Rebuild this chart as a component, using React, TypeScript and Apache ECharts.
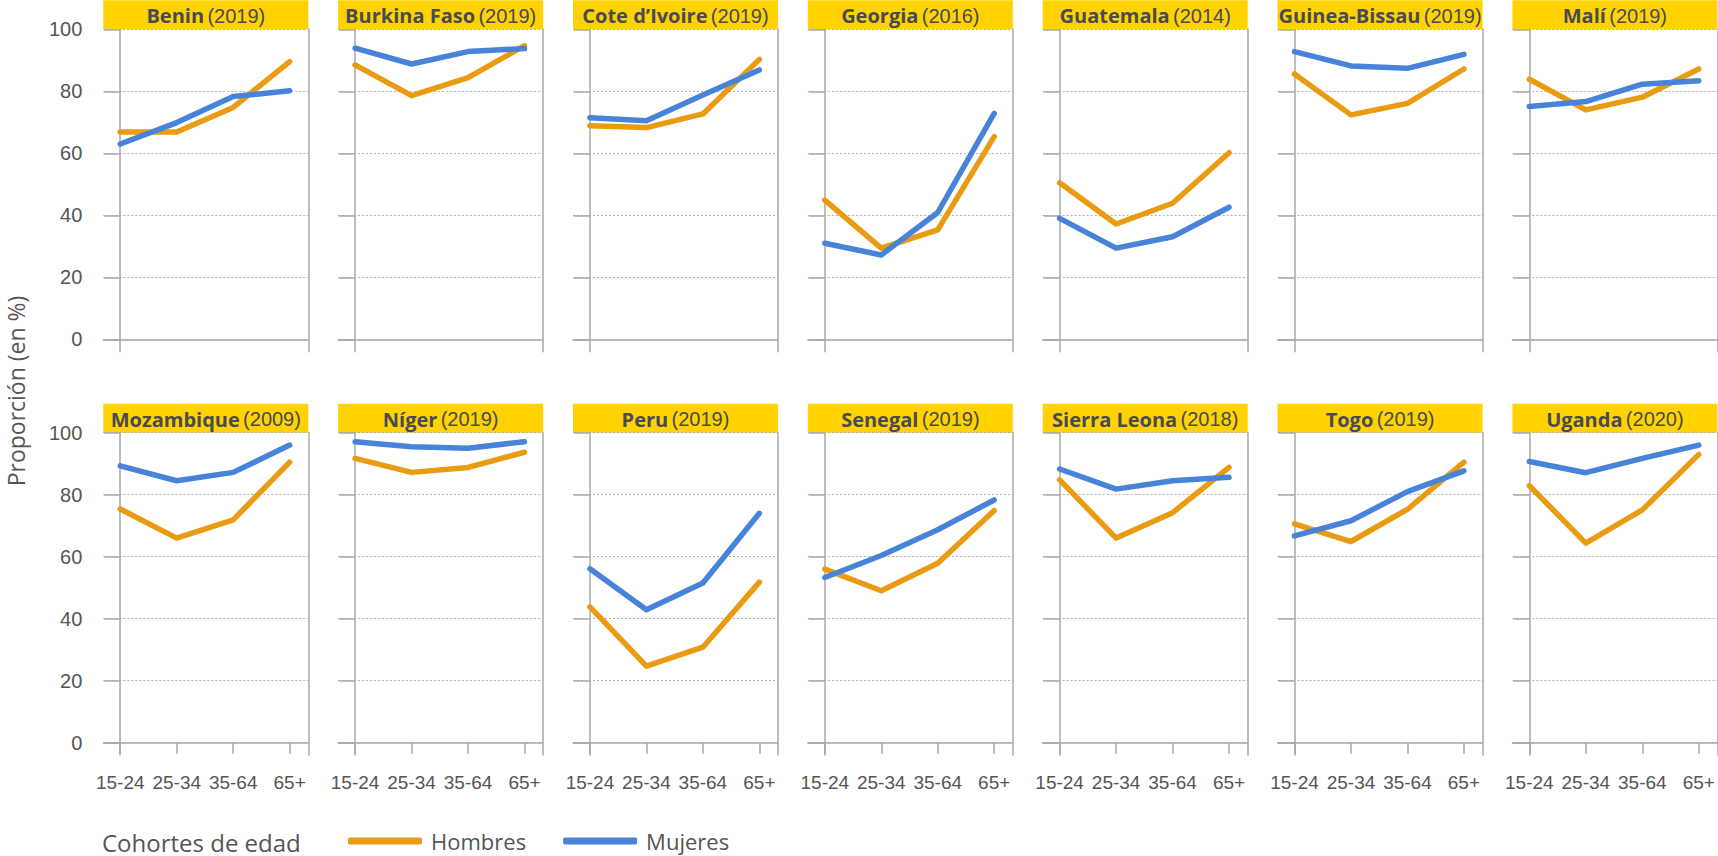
import React, { useEffect, useRef } from "react";
import * as echarts from "echarts";

// ---- data ----
const ageGroups = ["15-24", "25-34", "35-64", "65+"];
const yTicks = [0, 20, 40, 60, 80, 100];
const countries = [
  "Benin", "Burkina Faso", "Cote d’Ivoire", "Georgia", "Guatemala", "Guinea-Bissau", "Malí",
  "Mozambique", "Níger", "Peru", "Senegal", "Sierra Leona", "Togo", "Uganda",
];
const surveyYears = [
  "2019", "2019", "2019", "2016", "2014", "2019", "2019",
  "2009", "2019", "2019", "2019", "2018", "2019", "2020",
];
const hombres: number[][] = [
  [66.9, 66.9, 74.8, 89.6],
  [88.5, 78.6, 84.4, 94.7],
  [68.9, 68.3, 72.7, 90.3],
  [44.9, 29.4, 35.3, 65.4],
  [50.5, 37.2, 43.9, 60.2],
  [85.6, 72.4, 76.1, 87.2],
  [83.9, 74.0, 78.1, 87.2],
  [75.4, 66.0, 71.9, 90.5],
  [91.7, 87.2, 88.8, 93.7],
  [43.8, 24.7, 30.8, 51.8],
  [56.0, 49.0, 57.9, 74.9],
  [84.8, 66.0, 74.2, 88.8],
  [70.6, 64.9, 75.3, 90.5],
  [82.9, 64.4, 75.1, 93.0],
];
const mujeres: number[][] = [
  [63.0, 69.9, 78.3, 80.2],
  [93.9, 88.8, 92.8, 93.8],
  [71.5, 70.5, 78.8, 86.9],
  [31.0, 27.2, 40.9, 72.9],
  [39.0, 29.4, 33.1, 42.6],
  [92.8, 88.2, 87.4, 91.9],
  [75.1, 76.7, 82.3, 83.4],
  [89.3, 84.5, 87.2, 96.0],
  [97.1, 95.5, 95.0, 97.1],
  [56.1, 42.9, 51.5, 74.0],
  [53.3, 60.4, 68.7, 78.3],
  [88.3, 81.8, 84.5, 85.6],
  [66.7, 71.6, 81.0, 87.7],
  [90.7, 87.1, 91.7, 96.0],
];

// ---- layout / style ----
const PANEL_LEFT0 = 103.3;
const PANEL_STEP = 234.85;
const BOX_W = 205;
const BOX_H = 322.4;
const ROW_TOP = [29.3, 432.7];
const HEADER_H = 29;
const ORANGE = "#E99B12";
const BLUE = "#4783D8";
const YELLOW = "#FFD200";
const AXIS_GREY = "#A8A8A8";
const TEXT = "#555555";
const HEAD_TEXT = "#4A4A55";
const NARROW = "'Liberation Sans', Arial, sans-serif";
const SANS = "'Open Sans', 'Noto Sans', sans-serif";

function buildOption() {
  const grid: any[] = [];
  const xAxis: any[] = [];
  const yAxis: any[] = [];
  const series: any[] = [];
  const graphic: any[] = [];

  countries.forEach((name, i) => {
    const row = Math.floor(i / 7);
    const col = i % 7;
    const left = PANEL_LEFT0 + col * PANEL_STEP;
    const top = ROW_TOP[row];
    const bottomRow = row === 1;
    const firstCol = col === 0;

    grid.push({ left, top, width: BOX_W, height: BOX_H, containLabel: false });

    xAxis.push({
      type: "value",
      gridIndex: i,
      min: -0.3,
      max: 3.33,
      axisLine: { show: true, lineStyle: { color: AXIS_GREY, width: 1.5 } },
      axisTick: {
        show: bottomRow,
        customValues: [0, 1, 2, 3],
        length: 11,
        lineStyle: { color: AXIS_GREY, width: 1.5 },
      },
      axisLabel: {
        show: bottomRow,
        customValues: [0, 1, 2, 3],
        formatter: (v: number) => ageGroups[Math.round(v)],
        margin: 18,
        fontSize: 19,
        color: TEXT,
        fontFamily: NARROW,
      },
      splitLine: { show: false },
    });

    yAxis.push({
      type: "value",
      gridIndex: i,
      position: "left",
      min: -4,
      max: 100,
      axisLine: { show: true, lineStyle: { color: AXIS_GREY, width: 1.5 } },
      axisTick: {
        show: true,
        customValues: yTicks,
        length: 16,
        lineStyle: { color: AXIS_GREY, width: 1.5 },
      },
      axisLabel: {
        show: firstCol,
        customValues: yTicks,
        margin: 21,
        fontSize: 20,
        color: TEXT,
        fontFamily: NARROW,
      },
      splitLine: {
        show: true,
        lineStyle: { color: "#B0B0B0", width: 1, type: [2, 2] },
      },
    });
    yAxis.push({
      type: "value",
      gridIndex: i,
      position: "right",
      min: -4,
      max: 100,
      axisLine: { show: true, lineStyle: { color: AXIS_GREY, width: 1.5 } },
      axisTick: { show: false },
      axisLabel: { show: false },
      splitLine: { show: false },
    });

    series.push({
      name: "Hombres",
      type: "line",
      xAxisIndex: i,
      yAxisIndex: 2 * i,
      data: hombres[i].map((v, k) => [k, v]),
      showSymbol: false,
      symbol: "none",
      lineStyle: { color: ORANGE, width: 5.5, cap: "round", join: "round" },
      itemStyle: { color: ORANGE },
      z: 3,
    });
    series.push({
      name: "Mujeres",
      type: "line",
      xAxisIndex: i,
      yAxisIndex: 2 * i,
      data: mujeres[i].map((v, k) => [k, v]),
      showSymbol: false,
      symbol: "none",
      lineStyle: { color: BLUE, width: 5.5, cap: "round", join: "round" },
      itemStyle: { color: BLUE },
      z: 4,
    });

    graphic.push({
      type: "group",
      children: [
        {
          type: "rect",
          shape: { x: left, y: top - HEADER_H, width: BOX_W, height: HEADER_H },
          style: { fill: YELLOW },
        },
        {
          type: "text",
          style: {
            x: left + BOX_W / 2,
            y: top - HEADER_H / 2 + 1,
            align: "center",
            verticalAlign: "middle",
            text: `{b|${name}} {n|(${surveyYears[i]})}`,
            rich: {
              b: { fontFamily: SANS, fontWeight: "bold", fontSize: 20, fill: HEAD_TEXT, color: HEAD_TEXT },
              n: { fontFamily: NARROW, fontSize: 20, fill: HEAD_TEXT, color: HEAD_TEXT },
            },
          },
        },
      ],
    });
  });

  graphic.push({
    type: "text",
    x: 16,
    y: 391,
    rotation: Math.PI / 2,
    style: {
      text: "Proporción (en %)",
      align: "center",
      verticalAlign: "middle",
      fontFamily: SANS,
      fontSize: 23,
      fill: TEXT,
    },
  });
  graphic.push({
    type: "text",
    style: {
      x: 102,
      y: 842,
      text: "Cohortes de edad",
      align: "left",
      verticalAlign: "middle",
      fontFamily: SANS,
      fontSize: 24,
      fill: TEXT,
    },
  });

  return {
    animation: false,
    backgroundColor: "#FFFFFF",
    grid,
    xAxis,
    yAxis,
    series,
    graphic,
    legend: {
      data: ["Hombres", "Mujeres"],
      left: 348,
      top: 830,
      padding: 0,
      orient: "horizontal",
      icon: "roundRect",
      itemWidth: 74,
      itemHeight: 7,
      itemGap: 37,
      textStyle: { fontSize: 22, color: TEXT, fontFamily: SANS, padding: [0, 0, 0, 4] },
    },
  };
}

export default function App() {
  const ref = useRef<HTMLDivElement>(null);
  useEffect(() => {
    if (!ref.current) return;
    const chart = echarts.init(ref.current, undefined, { renderer: "svg" });
    chart.setOption(buildOption() as any);
    return () => chart.dispose();
  }, []);
  return (
    <div
      ref={ref}
      style={{ position: "fixed", left: 0, top: 0, width: 1718, height: 856, background: "#fff" }}
    />
  );
}
